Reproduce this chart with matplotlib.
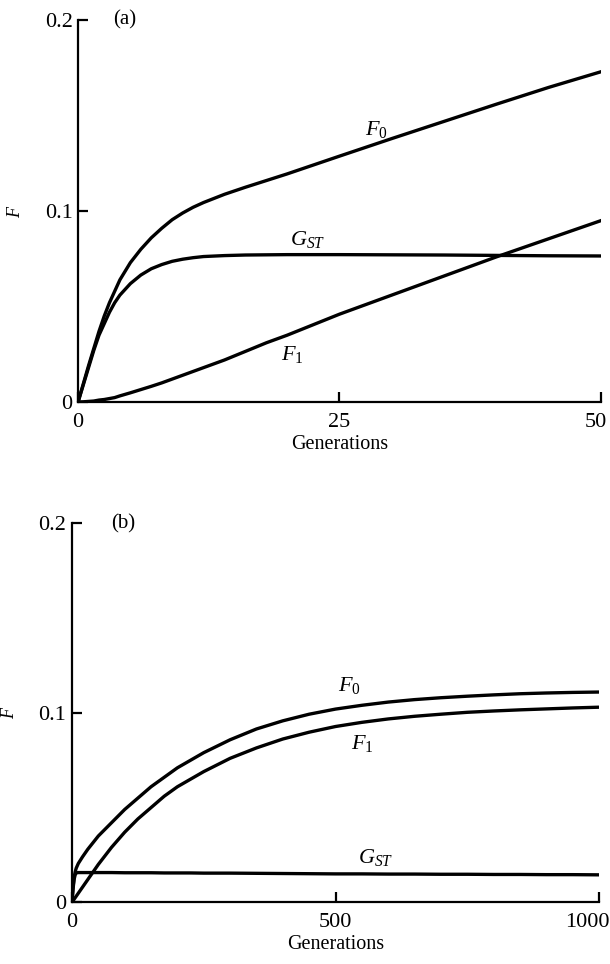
import matplotlib.pyplot as plt
import matplotlib.transforms as mtransforms

plt.rcParams['font.family'] = ['Liberation Serif', 'DejaVu Serif']
plt.rcParams['mathtext.fontset'] = 'custom'
plt.rcParams['mathtext.rm'] = 'Liberation Serif'
plt.rcParams['mathtext.it'] = 'Liberation Serif:italic'

# panel (a): first 50 generations
gen_a = [0, 0.5, 1, 1.5, 2, 2.5, 3, 3.5, 4, 5, 6, 7, 8, 9, 10, 11, 12, 14,
         16, 18, 20, 25, 30, 35, 40, 45, 50]
f0_a = [0, 0.0095, 0.019, 0.028, 0.037, 0.045, 0.052, 0.058, 0.064, 0.073,
        0.080, 0.086, 0.091, 0.0955, 0.099, 0.102, 0.1045, 0.1088, 0.1125,
        0.116, 0.1195, 0.1288, 0.138, 0.147, 0.156, 0.1648, 0.173]
gst_a = [0, 0.009, 0.018, 0.027, 0.035, 0.041, 0.047, 0.052, 0.056, 0.062,
         0.0665, 0.0698, 0.072, 0.0737, 0.0748, 0.0756, 0.0762, 0.0767,
         0.077, 0.0771, 0.0772, 0.0772, 0.0771, 0.077, 0.0768, 0.0766, 0.0765]
f1_a = [0, 0.0001, 0.0003, 0.0005, 0.001, 0.0013, 0.0018, 0.0023, 0.0032,
        0.0048, 0.0065, 0.0082, 0.010, 0.012, 0.014, 0.016, 0.018, 0.022,
        0.0265, 0.031, 0.035, 0.046, 0.056, 0.066, 0.076, 0.0855, 0.095]

# panel (b): 1000 generations
gen_b = [0, 2, 4, 6, 8, 12, 20, 30, 40, 50, 75, 100, 125, 150, 175, 200, 225,
         250, 300, 350, 400, 450, 500, 550, 600, 650, 700, 750, 800, 850,
         900, 950, 1000]
f0_b = [0, 0.008, 0.013, 0.016, 0.018, 0.0205, 0.024, 0.028, 0.0315, 0.035,
        0.042, 0.049, 0.055, 0.061, 0.066, 0.071, 0.075, 0.079, 0.0858,
        0.0915, 0.0958, 0.0993, 0.102, 0.104, 0.1057, 0.107, 0.108, 0.1088,
        0.1095, 0.1101, 0.1105, 0.1108, 0.111]
f1_b = [0, 0.0008, 0.0016, 0.0024, 0.0032, 0.0048, 0.008, 0.012, 0.016,
        0.020, 0.029, 0.037, 0.044, 0.050, 0.056, 0.061, 0.065, 0.069, 0.076,
        0.0815, 0.0862, 0.0898, 0.0928, 0.095, 0.0968, 0.0982, 0.0993,
        0.1003, 0.101, 0.1016, 0.1021, 0.1026, 0.103]
gst_b = [0, 0.007, 0.012, 0.0145, 0.0155, 0.0157, 0.0157, 0.0157, 0.0157,
         0.0157, 0.0157, 0.0156, 0.0156, 0.0156, 0.0155, 0.0155, 0.0155,
         0.0154, 0.0154, 0.0153, 0.0152, 0.0151, 0.015, 0.015, 0.0149,
         0.0149, 0.0148, 0.0148, 0.0147, 0.0147, 0.0146, 0.0146, 0.0145]

fig = plt.figure(figsize=(6.1, 9.64), dpi=100)
ax1 = fig.add_axes([0.128, 0.583, 0.857, 0.396])
ax2 = fig.add_axes([0.118, 0.064, 0.864, 0.393])

lw = 2.4
ax1.plot(gen_a, f0_a, color='black', lw=lw)
ax1.plot(gen_a, gst_a, color='black', lw=lw)
ax1.plot(gen_a, f1_a, color='black', lw=lw)
ax2.plot(gen_b, f0_b, color='black', lw=lw)
ax2.plot(gen_b, f1_b, color='black', lw=lw)
ax2.plot(gen_b, gst_b, color='black', lw=lw)

ax1.set_xlim(0, 50)
ax1.set_xticks([0, 25, 50])
ax1.set_xticklabels(['0', '25', '50'])
ax2.set_xlim(0, 1000)
ax2.set_xticks([0, 500, 1000])
ax2.set_xticklabels(['0', '500', '1000'])

for ax in (ax1, ax2):
    ax.set_ylim(0, 0.2)
    ax.set_yticks([0, 0.1, 0.2])
    ax.set_yticklabels(['0', '0.1', '0.2'])
    ax.spines['top'].set_visible(False)
    ax.spines['right'].set_visible(False)
    for s in ('left', 'bottom'):
        ax.spines[s].set_linewidth(1.6)
    ax.tick_params(direction='in', length=7, width=1.6, labelsize=16)
    ax.tick_params(axis='y', pad=4)
    ax.tick_params(axis='x', pad=8)
    ax.set_xlabel('Generations', fontsize=14.5, labelpad=2)
    ax.set_ylabel('$F$', fontsize=13, rotation=90, labelpad=15)
    ax.patch.set_alpha(0)

# pull the right-most tick labels in so they stay on the page
for ax, dx in ((ax1, -5), (ax2, -12)):
    lab = ax.get_xticklabels()[-1]
    shift = mtransforms.ScaledTranslation(dx / 100, 0, fig.dpi_scale_trans)
    lab.set_transform(lab.get_transform() + shift)

ax1.text(28.5, 0.143, '$F_0$', fontsize=16, ha='center', va='center')
ax1.text(22, 0.085, '$G_{ST}$', fontsize=16, ha='center', va='center')
ax1.text(20.5, 0.025, '$F_1$', fontsize=16, ha='center', va='center')
ax1.text(4.5, 0.2, '(a)', fontsize=15, ha='center', va='center')

ax2.text(527, 0.1145, '$F_0$', fontsize=16, ha='center', va='center')
ax2.text(550, 0.084, '$F_1$', fontsize=16, ha='center', va='center')
ax2.text(577, 0.0235, '$G_{ST}$', fontsize=16, ha='center', va='center')
ax2.text(97, 0.2, '(b)', fontsize=15, ha='center', va='center')

fig.savefig('out.png', dpi=100)
